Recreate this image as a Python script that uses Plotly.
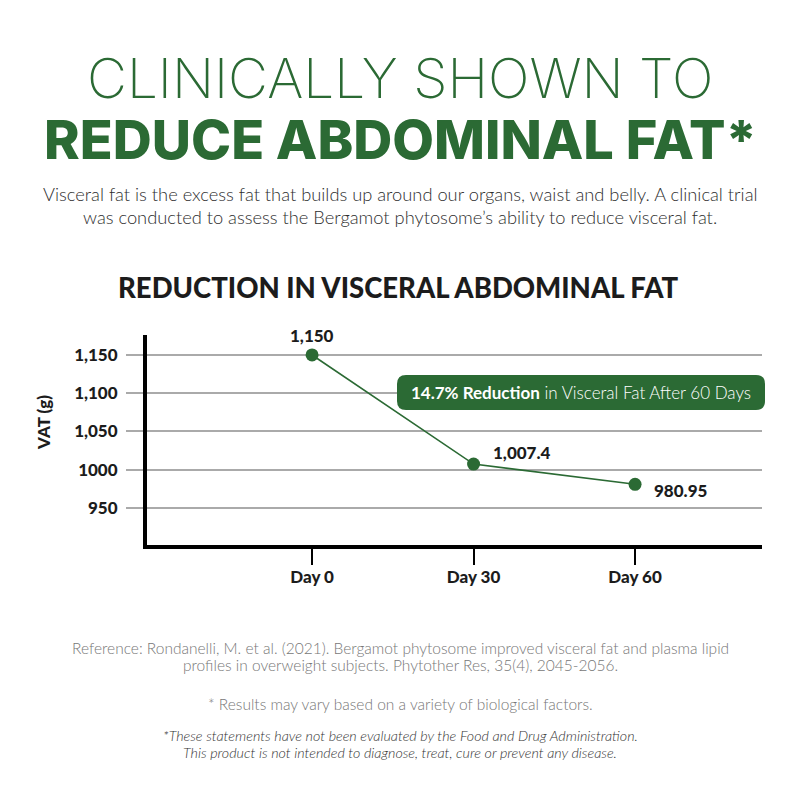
import plotly.graph_objects as go

# ---------------- data ----------------
days = ["Day 0", "Day 30", "Day 60"]
vat = [1150, 1007.4, 980.95]
point_labels = ["1,150", "1,007.4", "980.95"]
y_ticks = [950, 1000, 1050, 1100, 1150]
y_tick_labels = ["950", "1000", "1,050", "1,100", "1,150"]

GREEN = "#2b6a34"
DARK = "#1c1c1c"
BOLD_FONT = "Lato, Inter, sans-serif"
TEXT_FONT = "Lato, 'Open Sans', sans-serif"

# plot area in pixels
L, R, T, B = 147, 762, 335, 545


def px(x):
    return (x - L) / (R - L)


def py(y):
    return (B - y) / (B - T)


fig = go.Figure()
fig.add_trace(go.Scatter(
    x=days, y=vat, mode="lines+markers",
    line=dict(color=GREEN, width=1.6),
    marker=dict(color=GREEN, size=13),
    hoverinfo="skip", showlegend=False, cliponaxis=False,
))

annotations = []
# point labels
offsets = [(0, 19, "center"), (17, 12, "left"), (17, -6, "left")]
for d, v, lab, (xs, ys, anc) in zip(days, vat, point_labels, offsets):
    annotations.append(dict(
        x=d, y=v, xref="x", yref="y", text=lab, showarrow=False,
        xanchor=anc, yanchor="middle", xshift=xs, yshift=ys,
        font=dict(family=BOLD_FONT, size=17, color=DARK, weight=900),
    ))


def text(xp, yp, s, size, color, family=TEXT_FONT, weight=None, style=None, angle=0):
    f = dict(family=family, size=size, color=color)
    if weight is not None:
        f["weight"] = weight
    if style is not None:
        f["style"] = style
    annotations.append(dict(
        x=px(xp), y=py(yp), xref="paper", yref="paper", text=s, showarrow=False,
        xanchor="center", yanchor="middle", font=f, textangle=angle,
    ))


text(400, 78, "CLINICALLY SHOWN TO", 55, GREEN, family="Inter, Lato, sans-serif", weight=200)
text(400, 139, "REDUCE ABDOMINAL FAT*", 54, GREEN, family="Inter, Lato, sans-serif", weight=800)
text(400, 194, "Visceral fat is the excess fat that builds up around our organs, waist and belly. A clinical trial",
     18.3, "#2e2e2e", weight=300)
text(400, 217, "was conducted to assess the Bergamot phytosome\u2019s ability to reduce visceral fat.",
     18.3, "#2e2e2e", weight=300)
text(398, 287, "REDUCTION IN VISCERAL ABDOMINAL FAT", 27.5, DARK, family=BOLD_FONT, weight=900)
text(43, 423, "VAT (g)", 17, DARK, family=BOLD_FONT, weight=900, angle=-90)

text(400, 648, "Reference: Rondanelli, M. et al. (2021). Bergamot phytosome improved visceral fat and plasma lipid",
     15.5, "#777777", weight=300)
text(400, 665, "profiles in overweight subjects. Phytother Res, 35(4), 2045-2056.", 15.5, "#777777", weight=300)
text(400, 704, "* Results may vary based on a variety of biological factors.", 15.5, "#777777", weight=300)
text(400, 735, "*These statements have not been evaluated by the Food and Drug Administration.",
     14.3, "#333333", weight=300, style="italic")
text(400, 752, "This product is not intended to diagnose, treat, cure or prevent any disease.",
     14.3, "#333333", weight=300, style="italic")

# callout box
text(581, 392, "<b>14.7% Reduction</b> in Visceral Fat After 60 Days", 17, "white", weight=300)

bx0, bx1, by0, by1, rad = 397, 765, 375, 410, 9
rx = rad / (R - L)
ry = rad / (B - T)
X0, X1, Y0, Y1 = px(bx0), px(bx1), py(by1), py(by0)
path = (f"M {X0+rx},{Y0} L {X1-rx},{Y0} Q {X1},{Y0} {X1},{Y0+ry} "
        f"L {X1},{Y1-ry} Q {X1},{Y1} {X1-rx},{Y1} L {X0+rx},{Y1} "
        f"Q {X0},{Y1} {X0},{Y1-ry} L {X0},{Y0+ry} Q {X0},{Y0} {X0+rx},{Y0} Z")

fig.update_layout(
    width=800, height=800,
    margin=dict(l=L, r=800 - R, t=T, b=800 - B, pad=0),
    paper_bgcolor="white", plot_bgcolor="white",
    annotations=annotations,
    shapes=[dict(type="path", path=path, xref="paper", yref="paper",
                 fillcolor=GREEN, line=dict(width=0), layer="above")],
    xaxis=dict(
        type="category", range=[-1.022, 2.786], showline=True, linewidth=4, linecolor="black",
        ticks="outside", ticklen=16, tickwidth=2, tickcolor="black", showgrid=False,
        tickfont=dict(family=BOLD_FONT, size=17, color=DARK, weight=900),
        ticklabelstandoff=-2,
        fixedrange=True,
    ),
    yaxis=dict(
        range=[901.6, 1176.1], showline=True, linewidth=4, linecolor="black",
        tickvals=y_ticks, ticktext=y_tick_labels,
        ticks="outside", ticklen=17, tickwidth=1.5, tickcolor="#aaaaaa",
        showgrid=True, gridcolor="#aaaaaa", gridwidth=1.5, zeroline=False,
        tickfont=dict(family=BOLD_FONT, size=17, color=DARK, weight=900),
        ticklabelstandoff=5,
        fixedrange=True,
    ),
)

fig.write_html("out.html")
